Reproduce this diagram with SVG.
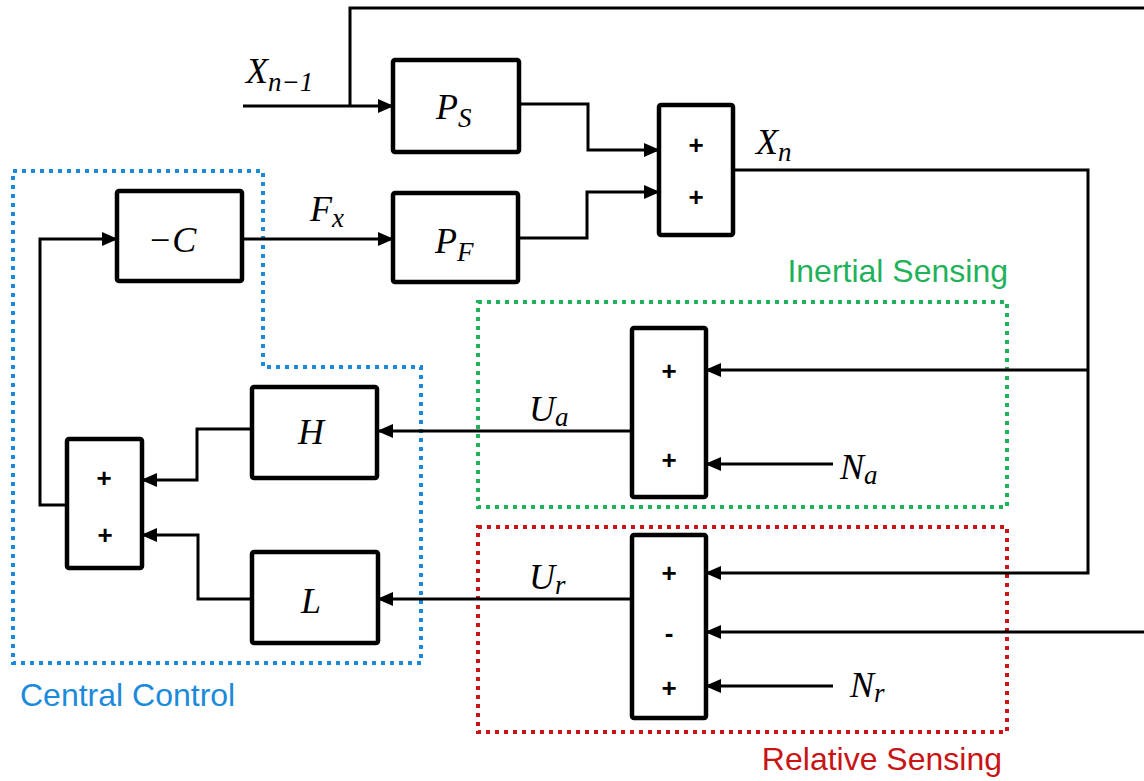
<svg xmlns="http://www.w3.org/2000/svg" width="1144" height="781" viewBox="0 0 1144 781">
<defs>
<marker id="arr" markerUnits="userSpaceOnUse" markerWidth="16" markerHeight="14" refX="15" refY="7" orient="auto">
<path d="M0,0 L16,7 L0,14 z" fill="#000"/>
</marker>
<style>
.box{fill:#fff;stroke:#000;stroke-width:4.5;}
.ln{fill:none;stroke:#000;stroke-width:3;}
.ar{fill:none;stroke:#000;stroke-width:3;marker-end:url(#arr);}
.m{font-family:"Liberation Serif","DejaVu Serif",serif;font-style:italic;font-size:36px;fill:#000;}
.c{text-anchor:middle;}
.sub{font-size:27px;}
.sg{font-family:"Liberation Sans",Arial,sans-serif;font-weight:bold;font-size:26px;text-anchor:middle;fill:#000;}
.dot{fill:none;stroke-width:4;stroke-dasharray:4 5;}
.lbl{font-family:"Liberation Sans",Arial,sans-serif;font-size:32px;}
</style>
</defs>
<rect width="1144" height="781" fill="#fff"/>

<g id="regions">
<path class="dot" stroke="#1C8ADB" d="M13,171 H263 V367 H421 V663 H13 Z"/>
<path class="dot" stroke="#1FB25A" d="M478,302 H1007 V507 H478 Z"/>
<path class="dot" stroke="#C81414" d="M478,527 H1007 V732 H478 Z"/>
<text class="lbl" x="20" y="706" fill="#1C8ADB">Central Control</text>
<text class="lbl" x="1008" y="282" fill="#1FB25A" text-anchor="end">Inertial Sensing</text>
<text class="lbl" x="1002" y="770" fill="#C81414" text-anchor="end">Relative Sensing</text>
</g>

<g id="connectors">
<path class="ar" d="M243,106 H393"/>
<path class="ln" d="M350,106 V8 H1144"/>
<path class="ar" d="M519,104 H588 V150 H659"/>
<path class="ar" d="M518,238 H587 V192 H659"/>
<path class="ar" d="M242,239 H393"/>
<path class="ar" d="M67,505 H40 V239 H117"/>
<path class="ar" d="M252,429 H197 V480 H142"/>
<path class="ar" d="M252,599 H198 V535 H142"/>
<path class="ar" d="M632,431 H378"/>
<path class="ar" d="M632,599 H378"/>
<path class="ar" d="M733,170 H1088 V573 H706"/>
<path class="ar" d="M1088,370 H706"/>
<path class="ar" d="M833,464 H706"/>
<path class="ar" d="M1144,632 H706"/>
<path class="ar" d="M833,686 H706"/>
</g>

<g id="PS"><rect class="box" x="393" y="60" width="126" height="92" rx="2"/>
<text class="m" x="436" y="119">P<tspan class="sub" dy="8">S</tspan></text></g>
<g id="PF"><rect class="box" x="393" y="193" width="125" height="89" rx="2"/>
<text class="m" x="435" y="253">P<tspan class="sub" dy="8">F</tspan></text></g>
<g id="sum1"><rect class="box" x="659" y="105" width="74" height="130" rx="2"/>
<text class="sg" x="696" y="154">+</text><text class="sg" x="696" y="206">+</text></g>
<g id="negC"><rect class="box" x="117" y="191" width="125" height="90" rx="2"/>
<text class="m c" x="172" y="252">−C</text></g>
<g id="sum2"><rect class="box" x="67" y="439" width="75" height="129" rx="2"/>
<text class="sg" x="104" y="487">+</text><text class="sg" x="105" y="544">+</text></g>
<g id="H"><rect class="box" x="252" y="387" width="125" height="91" rx="2"/>
<text class="m c" x="311" y="444">H</text></g>
<g id="L"><rect class="box" x="252" y="552" width="126" height="91" rx="2"/>
<text class="m c" x="311" y="613">L</text></g>
<g id="sumA"><rect class="box" x="632" y="328" width="74" height="169" rx="2"/>
<text class="sg" x="669" y="380">+</text><text class="sg" x="669" y="469">+</text></g>
<g id="sumR"><rect class="box" x="632" y="535" width="74" height="183" rx="2"/>
<text class="sg" x="669" y="582">+</text><text class="sg" x="669" y="642">-</text><text class="sg" x="669" y="697">+</text></g>

<g id="labels">
<text class="m" x="246" y="83">X<tspan class="sub" dy="8">n−1</tspan></text>
<text class="m" x="756" y="154">X<tspan class="sub" dy="7">n</tspan></text>
<text class="m" x="310" y="221">F<tspan class="sub" dy="6">x</tspan></text>
<text class="m" x="529" y="421">U<tspan class="sub" dy="5">a</tspan></text>
<text class="m" x="529" y="589">U<tspan class="sub" dy="5">r</tspan></text>
<text class="m" x="840" y="479">N<tspan class="sub" dy="5">a</tspan></text>
<text class="m" x="850" y="697">N<tspan class="sub" dy="5">r</tspan></text>
</g>
</svg>
